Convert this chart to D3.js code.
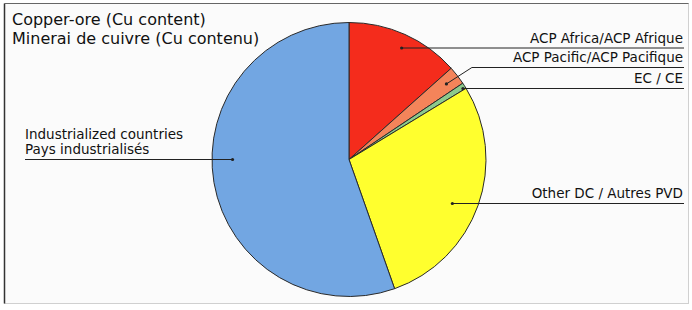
<!DOCTYPE html>
<html>
<head>
<meta charset="utf-8">
<script src="https://cdn.jsdelivr.net/npm/d3@7.9.0/dist/d3.min.js"></script>
<style>
  body { margin: 0; background: #fff; }
  svg { display: block; font-family: 'DejaVu Sans', sans-serif; }
</style>
</head>
<body>
<div id="chart"></div>
<script>
// shares of copper-ore production (% of total)
const categories = ['ACP Africa', 'ACP Pacific', 'EC', 'Other DC', 'Industrialized'];
const shares = [13.4, 2.2, 0.7, 28.3, 55.4];
const labels = [
  ['ACP Africa/ACP Afrique'],
  ['ACP Pacific/ACP Pacifique'],
  ['EC / CE'],
  ['Other DC / Autres PVD'],
  ['Industrialized countries', 'Pays industrialisés']
];
const colors = ['#f42c1c', '#f4845a', '#8cca8c', '#ffff2e', '#72a6e2'];
const title = ['Copper-ore (Cu content)', 'Minerai de cuivre (Cu contenu)'];

const width = 692;
const height = 310;
const cx = 349, cy = 159.5, r = 137;
const rightEdge = 684;

// leader layout per slice: y of the label rule, radius fraction of the dot, side
const leaders = [
  { y: 48, rf: 0.9, side: 'right' },
  { y: 67.5, rf: 0.9, side: 'right', elbow: true },
  { y: 88.5, rf: 0.98, side: 'right' },
  { y: 203.5, rf: 0.82, side: 'right' },
  { y: 159.5, rf: 0.85, side: 'left' }
];

const svg = d3.select('#chart')
  .append('svg')
  .attr('width', width)
  .attr('height', height);

// frame
svg.append('rect')
  .attr('x', 0).attr('y', 0)
  .attr('width', width).attr('height', height)
  .attr('fill', '#fff');
svg.append('rect')
  .attr('x', 4.5).attr('y', 3.5)
  .attr('width', 684).attr('height', 300)
  .attr('fill', '#fbfbfb')
  .attr('stroke', '#d0d0d0');
svg.append('line')
  .attr('x1', 4.5).attr('x2', 4.5)
  .attr('y1', 3.5).attr('y2', 303.5)
  .attr('stroke', '#333').attr('stroke-width', 1.5);
svg.append('line')
  .attr('x1', 4.5).attr('x2', 688.5)
  .attr('y1', 3.5).attr('y2', 3.5)
  .attr('stroke', '#666');

// title
svg.append('g')
  .selectAll('text')
  .data(title)
  .join('text')
  .attr('x', 12)
  .attr('y', (d, i) => 25 + i * 18.5)
  .attr('font-size', 16)
  .attr('fill', '#111')
  .text(d => d);

// pie
const pie = d3.pie().sort(null).value(d => d);
const arcs = pie(shares);
const arc = d3.arc().innerRadius(0).outerRadius(r);

const g = svg.append('g').attr('transform', `translate(${cx},${cy})`);
g.selectAll('path')
  .data(arcs)
  .join('path')
  .attr('d', arc)
  .attr('fill', (d, i) => colors[i])
  .attr('stroke', '#2a2a2a')
  .attr('stroke-width', 1);

// leaders and labels
const lg = svg.append('g');
arcs.forEach((a, i) => {
  const L = leaders[i];
  let dot, pts;
  if (L.elbow) {
    const mid = (a.startAngle + a.endAngle) / 2;
    dot = [cx + Math.sin(mid) * r * L.rf, cy - Math.cos(mid) * r * L.rf];
    const ex = dot[0] + (dot[1] - L.y) * 1.55;
    pts = [dot, [ex, L.y], [rightEdge, L.y]];
  } else {
    const dy = L.y - cy;
    const dx = Math.sqrt(Math.max(0, (r * L.rf) ** 2 - dy * dy));
    const x = L.side === 'right' ? cx + dx : cx - dx;
    dot = [x, L.y];
    pts = L.side === 'right' ? [dot, [rightEdge, L.y]] : [dot, [25, L.y]];
  }
  lg.append('path')
    .attr('d', d3.line()(pts))
    .attr('fill', 'none')
    .attr('stroke', '#222')
    .attr('stroke-width', 1);
  lg.append('circle')
    .attr('cx', dot[0]).attr('cy', dot[1])
    .attr('r', 1.6)
    .attr('fill', '#222');

  const lines = labels[i];
  lg.selectAll(null)
    .data(lines)
    .join('text')
    .attr('x', L.side === 'right' ? rightEdge - 1 : 25)
    .attr('y', (d, j) => L.y - 5.5 - (lines.length - 1 - j) * 15)
    .attr('text-anchor', L.side === 'right' ? 'end' : 'start')
    .attr('font-size', 13.5)
    .attr('fill', '#111')
    .text(d => d);
});
</script>
</body>
</html>
